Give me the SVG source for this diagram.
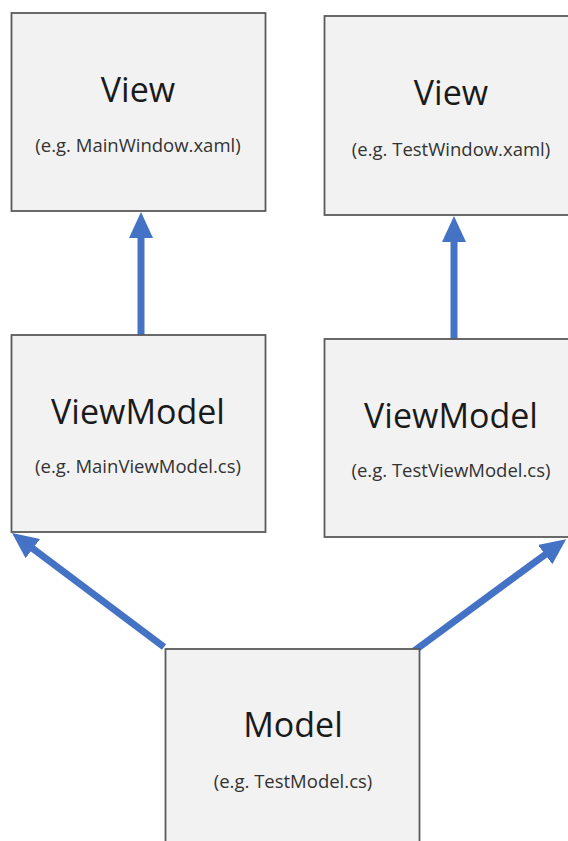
<svg xmlns="http://www.w3.org/2000/svg" width="568" height="841" viewBox="0 0 568 841">
<style>
.box{fill:#F2F2F2;stroke:#5a5a5a;stroke-width:1.8}
.t{font-family:"Open Sans","DejaVu Sans",sans-serif;font-size:34px;fill:#1a1a1a;text-anchor:middle}
.s{font-family:"Open Sans","DejaVu Sans",sans-serif;font-size:18.5px;fill:#333;text-anchor:middle}
.c{stroke:#4472C4;stroke-width:7;fill:none;marker-end:url(#ah)}
</style>
<defs>
<marker id="ah" markerUnits="userSpaceOnUse" markerWidth="26" markerHeight="24" refX="1" refY="12" orient="auto">
<path d="M0,0 L26,12 L0,24 z" fill="#4472C4"/>
</marker>
</defs>
<rect width="568" height="841" fill="#fff"/>
<g id="connectors">
<line class="c" x1="141" y1="335" x2="141" y2="237"/>
<line class="c" x1="454" y1="339" x2="454" y2="241"/>
<line class="c" x1="164" y1="647" x2="32" y2="548"/>
<line class="c" x1="414" y1="651" x2="546" y2="554"/>
</g>
<g id="view-main">
<rect class="box" x="11.5" y="13" width="254" height="198"/>
<text class="t" x="138" y="102">View</text>
<text class="s" x="138" y="152">(e.g. MainWindow.xaml)</text>
</g>
<g id="view-test">
<rect class="box" x="324.5" y="16" width="254" height="199"/>
<text class="t" x="451" y="105">View</text>
<text class="s" x="451" y="156">(e.g. TestWindow.xaml)</text>
</g>
<g id="viewmodel-main">
<rect class="box" x="11.5" y="335" width="254" height="197"/>
<text class="t" x="138" y="424">ViewModel</text>
<text class="s" x="138" y="473">(e.g. MainViewModel.cs)</text>
</g>
<g id="viewmodel-test">
<rect class="box" x="324.5" y="339" width="254" height="198"/>
<text class="t" x="451" y="428">ViewModel</text>
<text class="s" x="451" y="477">(e.g. TestViewModel.cs)</text>
</g>
<g id="model">
<rect class="box" x="165.5" y="649" width="254" height="205"/>
<text class="t" x="293" y="737">Model</text>
<text class="s" x="293" y="788">(e.g. TestModel.cs)</text>
</g>
</svg>
